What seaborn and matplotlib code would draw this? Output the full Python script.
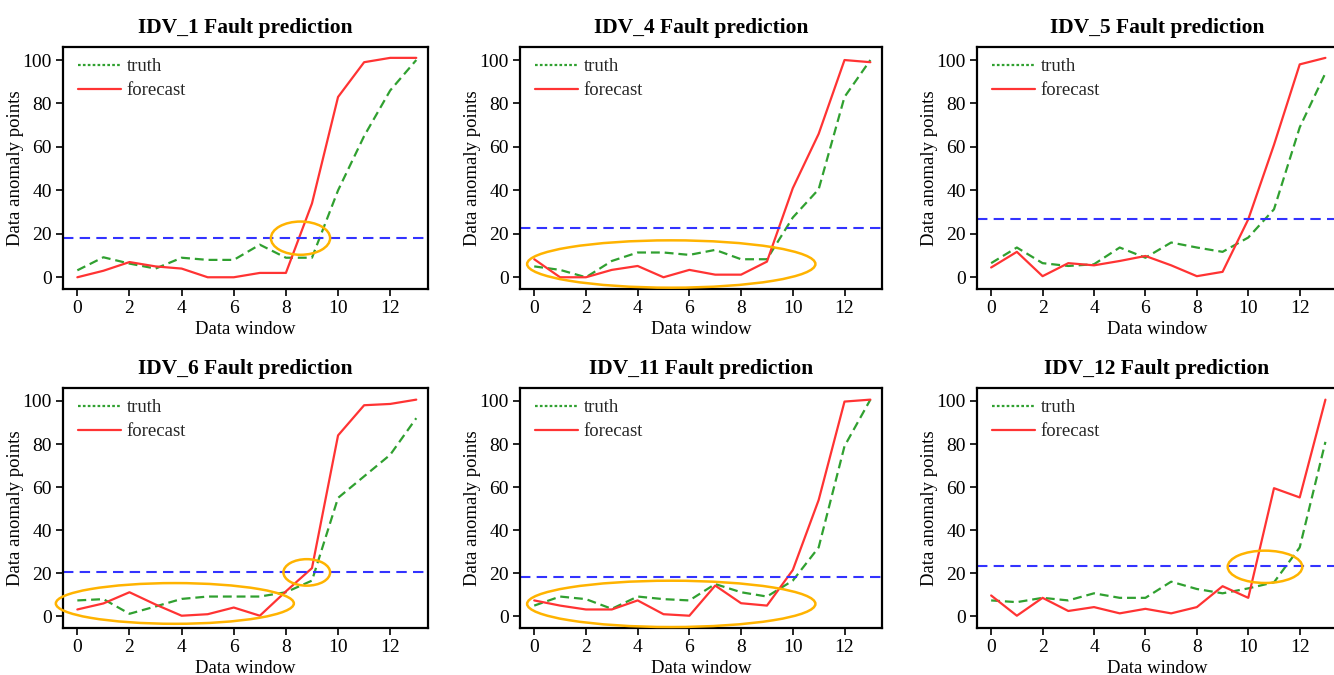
import numpy as np
import pandas as pd
import matplotlib
matplotlib.use("Agg")
import matplotlib.pyplot as plt
from matplotlib.patches import Ellipse
from matplotlib.lines import Line2D
import seaborn as sns

sns.set_theme(style="white")
plt.rcParams['font.family'] = ['Liberation Serif', 'DejaVu Serif']

windows = list(range(14))
titles = ["IDV_1 Fault prediction", "IDV_4 Fault prediction", "IDV_5 Fault prediction",
          "IDV_6 Fault prediction", "IDV_11 Fault prediction", "IDV_12 Fault prediction"]

truth_1 = [3.2, 9.2, 6.3, 4.0, 9.0, 8.0, 8.0, 15.0, 9.0, 9.0, 40.0, 65.0, 86.0, 100.0]
forecast_1 = [0.0, 3.0, 7.0, 5.0, 4.0, 0.0, 0.0, 2.0, 2.0, 34.0, 83.0, 99.0, 101.0, 101.0]
truth_4 = [5.0, 3.4, 0.0, 7.5, 11.4, 11.4, 10.3, 12.6, 8.3, 8.3, 27.5, 40.5, 83.0, 100.0]
forecast_4 = [8.3, 0.0, 0.0, 3.4, 5.2, 0.0, 3.4, 1.2, 1.2, 7.2, 41.0, 66.0, 100.0, 99.0]
truth_5 = [6.5, 13.7, 6.5, 5.2, 6.0, 13.7, 9.0, 16.0, 13.7, 11.7, 18.3, 31.3, 69.0, 94.0]
forecast_5 = [4.5, 11.7, 0.5, 6.5, 5.5, 7.5, 9.8, 5.5, 0.5, 2.5, 26.7, 61.0, 98.0, 101.0]
truth_6 = [7.4, 8.0, 1.2, 4.6, 8.1, 9.2, 9.2, 9.2, 11.2, 16.6, 55.0, 65.0, 75.0, 92.0]
forecast_6 = [3.2, 6.0, 11.2, 5.5, 0.3, 1.0, 4.1, 0.3, 11.6, 22.4, 84.0, 98.0, 98.6, 100.6]
truth_11 = [5.0, 9.2, 8.0, 3.5, 9.2, 8.0, 7.4, 15.0, 11.2, 9.2, 16.6, 32.0, 79.0, 100.6]
forecast_11 = [7.4, 5.0, 3.2, 3.2, 7.4, 1.0, 0.3, 14.3, 6.1, 5.0, 21.5, 54.0, 99.7, 100.6]
truth_12 = [7.4, 6.6, 8.6, 7.4, 10.7, 8.6, 8.6, 16.1, 12.7, 10.7, 13.0, 15.8, 32.0, 81.0]
forecast_12 = [9.7, 0.3, 8.6, 2.5, 4.3, 1.4, 3.5, 1.4, 4.3, 14.0, 8.6, 59.5, 55.2, 100.6]

thresholds = [18.0, 22.6, 26.6, 20.4, 18.1, 23.2]

truths = [truth_1, truth_4, truth_5, truth_6, truth_11, truth_12]
forecasts = [forecast_1, forecast_4, forecast_5, forecast_6, forecast_11, forecast_12]

# highlight ellipses: (x center, y center, width, height) in data units
ellipses = [
    [(8.56, 18.0, 2.27, 15.3)],
    [(5.3, 6.1, 11.15, 21.8)],
    [],
    [(3.74, 6.0, 9.13, 18.9), (8.8, 20.4, 1.79, 12.3)],
    [(5.3, 5.8, 11.15, 21.5)],
    [(10.65, 23.0, 2.9, 15.0)],
]

W, H = 1334, 675
fig = plt.figure(figsize=(W / 100, H / 100), dpi=100)
lefts = [63, 520, 977]
widths = [365, 362, 360]
row_tops = [47, 388]
row_bottoms = [289, 628]

green = "#30A030"
red = "#FF3333"
blue = "#3333FF"
orange = "#FFB300"

for i in range(6):
    r, c = divmod(i, 3)
    l = lefts[c] / W
    b = 1 - row_bottoms[r] / H
    w = widths[c] / W
    h = (row_bottoms[r] - row_tops[r]) / H
    ax = fig.add_axes([l, b, w, h])
    df = pd.DataFrame({
        "window": windows * 2,
        "value": truths[i] + forecasts[i],
        "series": ["truth"] * 14 + ["forecast"] * 14,
    })
    sns.lineplot(data=df, x="window", y="value", hue="series", style="series",
                 palette={"truth": green, "forecast": red},
                 dashes={"truth": (4, 2.2), "forecast": ""},
                 linewidth=1.6, ax=ax, legend=False)
    ax.axhline(thresholds[i], color=blue, linestyle=(0, (5, 3)), linewidth=1.5)
    for (xc, yc, ew, eh) in ellipses[i]:
        ax.add_patch(Ellipse((xc, yc), ew, eh, fill=False, edgecolor=orange,
                             linewidth=1.8, clip_on=False, zorder=5))
    ax.set_xlim(-0.55, 13.45)
    ax.set_ylim(-5.4, 106)
    ax.set_xticks(range(0, 13, 2))
    ax.set_yticks(range(0, 101, 20))
    ax.tick_params(axis="both", labelsize=14, colors="black", direction="out",
                   length=5, width=1.2, left=True, bottom=True)
    ax.tick_params(axis="y", pad=3)
    ax.tick_params(axis="x", pad=3)
    ax.set_xlabel("Data window", fontsize=13.5, color="black", labelpad=2.5)
    ax.set_ylabel("Data anomaly points", fontsize=13.5, color="black", labelpad=-1)
    ax.set_title(titles[i], fontsize=15.5, fontweight="bold", color="black", pad=10)
    for s in ax.spines.values():
        s.set_color("black")
        s.set_linewidth(1.6)
    handles = [Line2D([], [], color=green, linestyle=(0, (1.2, 1.0)), linewidth=1.6),
               Line2D([], [], color=red, linestyle="-", linewidth=1.6)]
    ax.legend(handles, ["truth", "forecast"], loc="upper left", frameon=False,
              fontsize=13.5, handlelength=2.3, handletextpad=0.3, labelspacing=0.35,
              borderaxespad=0.2, bbox_to_anchor=(0.01, 1.0))

fig.savefig("out.png", dpi=100, facecolor="white")
